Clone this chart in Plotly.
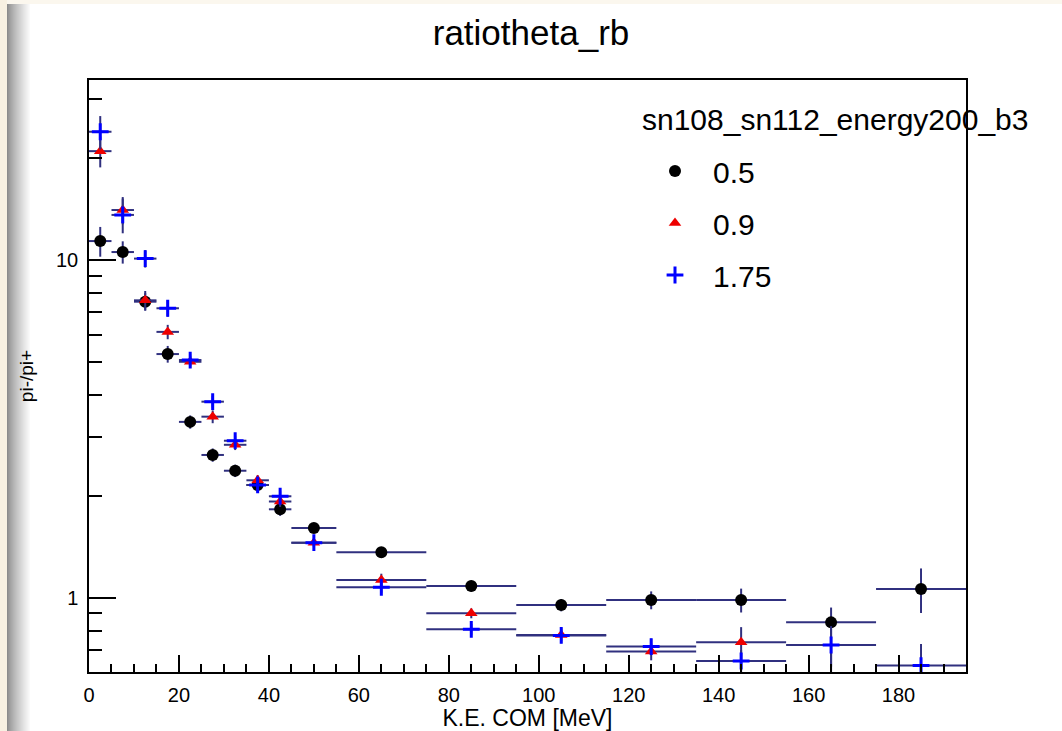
import math
import plotly.graph_objects as go

# ---------------- data ----------------
x_centers = [2.5, 7.5, 12.5, 17.5, 22.5, 27.5, 32.5, 37.5, 42.5, 50, 65, 85, 105, 125, 145, 165, 185]
x_halfwidths = [2.5, 2.5, 2.5, 2.5, 2.5, 2.5, 2.5, 2.5, 2.5, 5, 10, 10, 10, 10, 10, 10, 10]

series_names = ["0.5", "0.9", "1.75"]
legend_title = "sn108_sn112_energy200_b3"

ratio_05 = [11.38, 10.56, 7.53, 5.27, 3.32, 2.65, 2.38, 2.16, 1.83, 1.61, 1.365, 1.085, 0.953, 0.986, 0.986, 0.847, 1.063]
err_05 = [1.15, 0.8, 0.45, 0.3, 0.15, 0.12, 0.1, 0.1, 0.08, 0.05, 0.04, 0.04, 0.04, 0.06, 0.08, 0.09, 0.16]

ratio_09 = [21.0, 14.06, 7.6, 6.13, 5.0, 3.44, 2.84, 2.23, 1.93, 1.458, 1.13, 0.901, 0.777, 0.694, 0.74, 0.57, 0.55]
err_09 = [2.2, 1.3, 0.5, 0.3, 0.2, 0.15, 0.1, 0.08, 0.07, 0.04, 0.05, 0.03, 0.03, 0.04, 0.08, 0.15, 0.05]

ratio_175 = [23.97, 13.6, 10.1, 7.2, 5.06, 3.81, 2.92, 2.16, 2.0, 1.458, 1.076, 0.808, 0.775, 0.718, 0.651, 0.726, 0.631]
err_175 = [2.7, 1.6, 0.6, 0.4, 0.2, 0.15, 0.1, 0.08, 0.07, 0.03, 0.04, 0.03, 0.04, 0.04, 0.05, 0.1, 0.1]

x_tick_vals = [0, 20, 40, 60, 80, 100, 120, 140, 160, 180]
y_tick_vals = [1, 10]
y_tick_text = ["1", "10"]
y_minor_vals = [0.6, 0.7, 0.8, 0.9, 2, 3, 4, 5, 6, 7, 8, 9, 20, 30]

x_range = [0, 195]
y_range = [0.604, 34.1]

# ---------------- style ----------------
FONT = "Liberation Sans, Arial, Helvetica, sans-serif"
ERR_COLOR = "#30307f"

styles = [
    dict(symbol="circle", size=12, color="black", line=dict(width=0)),
    dict(symbol="triangle-up", size=11, color="#ee0000", line=dict(width=0)),
    dict(symbol="cross-thin", size=12, color="#0000ff", line=dict(width=3, color="#0000ff")),
]
values = [ratio_05, ratio_09, ratio_175]
errors = [err_05, err_09, err_175]

fig = go.Figure()
for name, vals, errs, st in zip(series_names, values, errors, styles):
    fig.add_trace(go.Scatter(
        x=x_centers, y=vals, mode="markers", name=name,
        legendgroup=name,
        marker=st,
        error_y=dict(type="data", array=errs, visible=True, color=ERR_COLOR, thickness=2, width=0),
        error_x=dict(type="data", array=x_halfwidths, visible=True, color=ERR_COLOR, thickness=2, width=0),
        cliponaxis=True,
    ))

# page background: cream border and grey shadow on the left
L, R, T, B = 89, 966, 80, 672
W, H = R - L, B - T
def px(xp):
    return (xp - L) / W
def py(yp):
    return (B - yp) / H

shapes = [
    dict(type="rect", xref="paper", yref="paper", x0=px(0), x1=px(1062), y0=py(0), y1=py(4),
         fillcolor="#fbf7ee", line=dict(width=0), layer="below"),
    dict(type="rect", xref="paper", yref="paper", x0=px(0), x1=px(7), y0=py(0), y1=py(731),
         fillcolor="#f8f1e2", line=dict(width=0), layer="below"),
]
n = 24
for i in range(n):
    t = i / (n - 1)
    g = int(140 + (255 - 140) * (t ** 0.8))
    shapes.append(dict(type="rect", xref="paper", yref="paper", x0=px(7 + i), x1=px(8 + i),
                       y0=py(4), y1=py(731), fillcolor=f"rgb({g},{g},{g})",
                       line=dict(width=0), layer="below"))

fig.update_layout(
    width=1062, height=731,
    margin=dict(l=L, r=1062 - R, t=T, b=731 - B, autoexpand=False),
    paper_bgcolor="white", plot_bgcolor="white",
    font=dict(family=FONT, color="black"),
    title=dict(text="ratiotheta_rb", x=px(531), xref="paper", xanchor="center",
               y=1 - 33 / 731, yanchor="middle", font=dict(size=35, family=FONT)),
    showlegend=True,
    legend=dict(
        x=px(637), y=py(145), xanchor="left", yanchor="top",
        bgcolor="rgba(0,0,0,0)", borderwidth=0,
        font=dict(size=30, family=FONT),
        itemwidth=66, tracegroupgap=10,
    ),
    annotations=[dict(text=legend_title, xref="paper", yref="paper", x=px(640), y=py(120),
                      xanchor="left", yanchor="middle", showarrow=False,
                      font=dict(size=30, family=FONT, color="black"))],
    shapes=shapes,
)

fig.update_xaxes(
    range=x_range, showgrid=False, zeroline=False,
    showline=True, linecolor="black", linewidth=1.5, mirror=True,
    ticks="inside", ticklen=17, tickwidth=1.5, tickcolor="black",
    tickvals=x_tick_vals, tickfont=dict(size=20, family=FONT),
    ticklabelstandoff=4,
    minor=dict(ticks="inside", dtick=5, ticklen=8, tickwidth=1.5, tickcolor="black", showgrid=False),
    title=dict(text="K.E. COM [MeV]", font=dict(size=23, family=FONT), standoff=4),
)
fig.update_yaxes(
    type="log", range=[math.log10(y_range[0]), math.log10(y_range[1])],
    showgrid=False, zeroline=False,
    showline=True, linecolor="black", linewidth=1.5, mirror=True,
    ticks="inside", ticklen=27, tickwidth=1.5, tickcolor="black",
    tickvals=y_tick_vals, ticktext=y_tick_text, tickfont=dict(size=20, family=FONT),
    ticklabelstandoff=5,
    minor=dict(ticks="inside", tickvals=y_minor_vals, ticklen=13, tickwidth=1.5, tickcolor="black", showgrid=False),
    title=dict(text="pi-/pi+", font=dict(size=19, family=FONT), standoff=17),
)

fig.write_html("out.html", config={"displayModeBar": False},
               post_script="document.body.style.margin='0';document.body.style.padding='0';")
